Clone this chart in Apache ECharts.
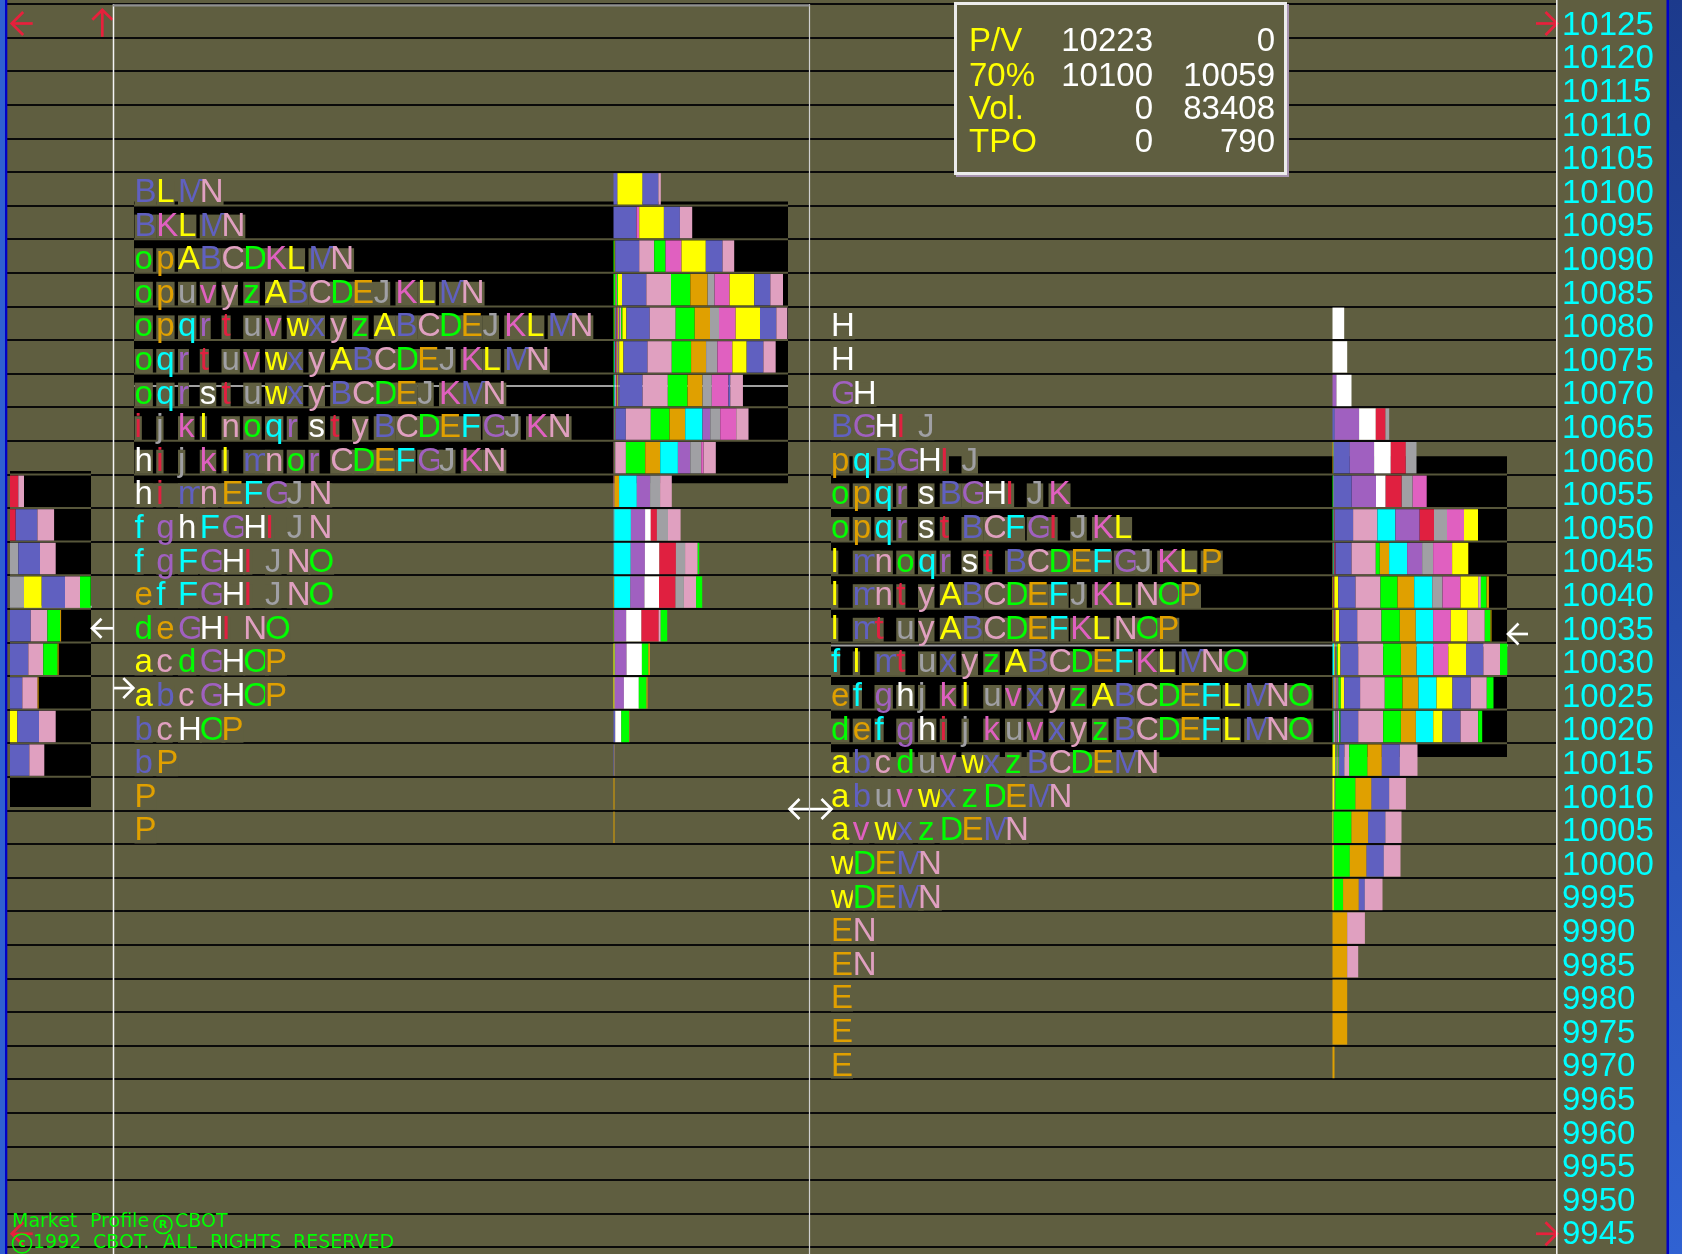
<!DOCTYPE html>
<html><head><meta charset="utf-8"><title>Market Profile</title>
<script src="https://cdn.jsdelivr.net/npm/echarts@6.0.0/dist/echarts.min.js"></script>
<style>html,body{margin:0;padding:0;background:#5f5e40;overflow:hidden}#chart{width:1682px;height:1254px}</style>
</head><body><div id="chart"></div>
<script>
// ================= DATA =================
const priceTicks = ['9945','9950','9955','9960','9965','9970','9975','9980','9985','9990','9995','10000','10005','10010','10015','10020','10025','10030','10035','10040','10045','10050','10055','10060','10065','10070','10075','10080','10085','10090','10095','10100','10105','10110','10115','10120','10125'];

// Day 1 profile
const leftPrices = [10100,10095,10090,10085,10080,10075,10070,10065,10060,10055,10050,10045,10040,10035,10030,10025,10020,10015,10010,10005];
const leftLetters = ['BLMN','BKLMN','opABCDKLMN','opuvyzABCDEJKLMN','opqrtuvwxyzABCDEJKLMN','oqrtuvwxyABCDEJKLMN','oqrstuwxyBCDEJKMN','ijklnoqrstyBCDEFGJKN','hijklmnorCDEFGJKN','himnEFGJN','fghFGHIJN','fgFGHIJNO','efFGHIJNO','deGHINO','acdGHOP','abcGHOP','bcHOP','bP','P','P'];
const leftVolumes = [
  [4,25,16,2.3],
  [23,2.7,24.7,16,12.3],
  [1,0.4,0.3,24,15,11.3,16,24.3,16.7,11.7],
  [1.5,0.5,0.5,0.5,0.5,1,4,24.3,24.7,19.3,17.3,7,15,24.7,16,12.7],
  [0.8,0.6,0.6,0.6,0.6,0.6,0.8,0.8,0.8,1.5,1.2,4,23.3,26,19,15.3,9,16.7,24.3,16.3,11],
  [0.63,0.63,0.63,0.63,0.63,0.63,0.63,0.63,0.63,4.3,24,24.3,19.3,15,11.3,15,14.3,16.7,12.3],
  [0.67,0.67,0.67,0.67,0.67,0.67,0.67,0.67,0.67,23,25.3,19.7,15,9.3,16.7,1.7,12.7],
  [0.21,0.21,0.21,0.21,0.21,0.21,0.21,0.21,0.21,0.21,0.21,10,25,18.7,15.7,17.3,7.7,10,16,12.3],
  [0.19,0.19,0.19,0.19,0.19,0.19,0.19,0.19,0.19,10.7,19.3,15,17.7,12.3,11,2.3,12.3],
  [0.25,0.25,0.25,0.25,4.6,17.7,13.3,10,11.7],
  [0.3,0.3,0.3,16.5,14.2,5.7,6.1,11.1,12.6],
  [0.3,0.3,16.6,14.2,14.5,16.5,9.2,12.6,1.5],
  [0.5,0.3,16,14.2,14.5,16.5,8.4,12.2,6.1],
  [0.3,0.4,12,15.3,17.2,2,6.5],
  [1,0.3,0.3,11.5,15.3,6.5,1.5],
  [1,0.2,0.2,9,14.9,7.7,1],
  [1.5,0.3,6,7.7,0.3],
  [1,0.3],
  [1],
  [1]
];

// Day 2 profile
const rightPrices = [10080,10075,10070,10065,10060,10055,10050,10045,10040,10035,10030,10025,10020,10015,10010,10005,10000,9995,9990,9985,9980,9975,9970];
const rightLetters = ['H','H','GH','BGHIJ','pqBGHIJ','opqrsBGHIJK','opqrstBCFGIJKL','lmnoqrstBCDEFGJKLP','lmntyABCDEFJKLNOP','lmtuyABCDEFKLNOP','flmtuxyzABCDEFKLMNO','efghjkluvxyzABCDEFLMNO','defghijkuvxyzBCDEFLMNO','abcduvwxzBCDEMN','abuvwxzDEMN','avwxzDEMN','wDEMN','wDEMN','EN','EN','E','E','E'];
const rightVolumes = [
  [11.7],
  [14.7],
  [4,15],
  [2.3,24.3,16.7,9.7,3.7],
  [1,0.3,16,24.3,16.7,15,10.7],
  [0.5,0.3,0.3,0.2,0.2,17.7,24.3,9.7,16,11,14],
  [0.5,0.4,0.4,0.3,0.3,0.4,18.3,24.3,18,24.3,14.3,13,17,14],
  [0.3,0.3,0.3,0.3,0.3,0.3,0.2,1,16,24.3,4,9.3,18,15,11,19,16,0.3],
  [0.5,0.3,0.3,0.5,0.3,3.8,17.3,25,17,16.7,18,10.3,18,17.7,2.7,5.7,2.3],
  [1,0.5,0.8,0.4,0.4,3.6,18,24.3,18.3,16,17.3,17.7,16.7,17.3,5.7,1],
  [1.5,0.8,0.4,0.4,0.4,0.4,0.4,1,2.7,17.7,25,17.7,15.7,16.7,15,17.7,17.3,16.7,7.3],
  [0.6,0.5,0.5,0.5,0.4,0.6,0.5,0.4,0.5,0.5,1,2.3,3.3,16,24.7,17.7,16,18,16,18.3,16,6.7],
  [0.5,0.5,0.5,0.5,0.5,0.5,0.5,0.5,0.5,0.5,0.5,1.2,1.3,17.7,25,17.7,15,17.3,9.3,18,17.7,4],
  [3,0.6,0.5,0.5,0.4,0.4,0.4,0.4,0.4,5.3,4.8,18.3,14.3,18,17.7],
  [1.5,0.3,0.2,0.2,0.4,0.2,0.2,20,16,17.7,16.7],
  [0.5,0.2,0.3,0.1,0.2,17.7,16.7,17.3,16],
  [1.3,16,16.7,17.3,16.7],
  [1.3,9.3,15.7,6,17.7],
  [14.7,17.7],
  [14.7,11],
  [14.7],
  [14.7],
  [2]
];

// Prior-day mini profile (bars only)
const miniPrices = [10055,10050,10045,10040,10035,10030,10025,10020,10015];
const miniPeriods = ['IN','IBN','JBN','JABND','BNDE','BNDE','BNE','ABN','BN'];
const miniVolumes = [[8.3,5.7],[5.7,21.7,16.7],[8.3,21.7,15.7],[14,17.7,23.3,15,10.7],[20.7,16.7,12.7,1],[18.3,15,14.3,1],[12.3,15.3,1],[7.3,21.7,16.7],[19.3,15]];

// value areas (left, right, mini) and points of control
const valueAreaHigh = [10098.1, 10060.2, 10058.0];
const valueAreaLow  = [10056.2, 10015.45, 10008.0];
const pocPrices = [10070.65, 10032.05, 10037.8];

// marker arrows (price levels)
const arrowPrices = [10124.6, 10124.6, 10124.6, 9944.5, 9944.5, 10034.6, 10025.7, 10007.7, 10033.75];

// statistics box
const pvLabels = ['P/V','70%','Vol.','TPO'];
const pvFirst  = ['10223','10100','0','0'];
const pvSecond = ['0','10059','83408','790'];

// ================= LAYOUT / STYLE =================
const OLIVE = '#5f5e40';
const SEP = '#57563a';
const PALETTE = ['#ffff00','#6060c0','#e0a0c0','#00ff00','#e0a000','#00ffff','#a060c0','#ffffff','#e02040','#a0a0a4','#e060c0'];
function colorOf(ch){ const c = ch.charCodeAt(0); const base = c >= 97 ? 97 : 65; return PALETTE[(c - base) % 11]; }
const PITCH = 21.75;
const TEXT_X = [134.5, 831];
const BAR_X = [613.5, 1332.5, 10];
const VA_X = [[134,788],[831,1507],[10,91]];
const POC_X = [[134,788],[831,1508],[24,92]];
const LABEL_X = 1562;
const FONT_FAMILY = '"Liberation Sans", Arial, sans-serif';
const LETTER_FONT = '33px ' + FONT_FAMILY;
const RED = '#e8203c', WHITE = '#ffffff';
const ARROW_LAYOUT = [
  {x:11.7, kind:'left', color:RED, s:11.5, len:21},
  {x:102.3, kind:'up', color:RED, s:10, len:27},
  {x:1557, kind:'right', color:RED, s:11.5, len:21},
  {x:1557, kind:'right', color:RED, s:11.5, len:21},
  {x:11.7, kind:'left', color:RED, s:11.5, len:21},
  {x:92, kind:'left', color:WHITE, s:9.5, len:21},
  {x:133.3, kind:'right', color:WHITE, s:10, len:20},
  {x:810.5, kind:'both', color:WHITE, s:10, len:21},
  {x:1508, kind:'left', color:WHITE, s:10.5, len:20}
];

// ================= BUILD ITEMS =================
const letterItems = [];
function addLetters(prof, prices, letters){
  prices.forEach((p, r) => {
    const s = letters[r];
    for (let i = 0; i < s.length; i++) letterItems.push({x: TEXT_X[prof] + i * PITCH, p: p, ch: s[i]});
  });
}
addLetters(0, leftPrices, leftLetters);
addLetters(1, rightPrices, rightLetters);

const barItems = [];
function addBars(prof, prices, letters, vols){
  prices.forEach((p, r) => {
    let cum = 0;
    const s = letters[r], v = vols[r];
    for (let i = 0; i < v.length; i++) { barItems.push({x: BAR_X[prof] + cum, p: p, w: v[i], ch: s[i]}); cum += v[i]; }
  });
}
addBars(0, leftPrices, leftLetters, leftVolumes);
addBars(1, rightPrices, rightLetters, rightVolumes);
addBars(2, miniPrices, miniPeriods, miniVolumes);

// ================= CHART =================
const chart = echarts.init(document.getElementById('chart'), null, {renderer:'canvas'});

function arrowShape(a, x, y){
  const s = a.s, L = a.len, lines = [];
  if (a.kind === 'left') { lines.push([[x, y],[x + L, y]]); lines.push([[x + s, y - s],[x, y],[x + s, y + s]]); }
  if (a.kind === 'right') { lines.push([[x - L, y],[x, y]]); lines.push([[x - s, y - s],[x, y],[x - s, y + s]]); }
  if (a.kind === 'up') { const t = y - 13.7; lines.push([[x, t],[x, t + L]]); lines.push([[x - s, t + s],[x, t],[x + s, t + s]]); }
  if (a.kind === 'both') { lines.push([[x - L, y],[x + L, y]]); lines.push([[x - L + s, y - s],[x - L, y],[x - L + s, y + s]]); lines.push([[x + L - s, y - s],[x + L, y],[x + L - s, y + s]]); }
  return lines.map(pts => ({type:'polyline', shape:{points: pts}, style:{stroke: a.color, lineWidth: 2.7, fill: null}}));
}

const option = {
  animation: false,
  backgroundColor: OLIVE,
  grid: {left: 7, right: 126, top: 4, bottom: 6.8, containLabel: false, outerBoundsMode: 'none'},
  xAxis: {type: 'value', min: 7, max: 1556, show: false},
  yAxis: [
    {type: 'value', min: 9942.5, max: 10127.5, show: false},
    {type: 'category', data: priceTicks, position: 'right',
     axisLine: {show: false}, axisTick: {show: false}, axisLabel: {show: false},
     splitLine: {show: true, interval: 0, lineStyle: {color: '#0a0a0a', width: 2}}}
  ],
  series: [
    { // value areas
      type: 'custom', z: 1, silent: true,
      data: valueAreaHigh.map((h, i) => [VA_X[i][0], h, VA_X[i][1], valueAreaLow[i]]),
      encode: {x: [0, 2], y: [1, 3]},
      renderItem: function(params, api){
        const a = api.coord([api.value(0), api.value(1)]);
        const b = api.coord([api.value(2), api.value(3)]);
        const hi = api.value(1), lo = api.value(3);
        const ch = [{type:'rect', shape:{x:a[0], y:a[1], width:b[0]-a[0], height:b[1]-a[1]}, style:{fill:'#000'}}];
        for (let e = 9942.5; e <= 10127.5; e += 5) {
          if (e < hi - 0.3 && e > lo + 0.3) {
            const y = api.coord([0, e])[1];
            ch.push({type:'line', shape:{x1:a[0], y1:y, x2:b[0], y2:y}, style:{stroke: SEP, lineWidth: 2}});
          }
        }
        return {type:'group', children: ch};
      }
    },
    { // POC lines
      type: 'custom', z: 2, silent: true,
      data: pocPrices.map((p, i) => [POC_X[i][0], p, POC_X[i][1]]),
      encode: {x: [0, 2], y: 1},
      renderItem: function(params, api){
        const a = api.coord([api.value(0), api.value(1)]);
        const b = api.coord([api.value(2), api.value(1)]);
        return {type:'line', shape:{x1:a[0], y1:a[1], x2:b[0], y2:b[1]}, style:{stroke:'#a0a0a0', lineWidth: 2}};
      }
    },
    { // histogram segments
      type: 'custom', z: 3, silent: true,
      data: barItems.map(o => [o.x, o.p, o.w]),
      encode: {x: 0, y: 1},
      renderItem: function(params, api){
        const o = barItems[params.dataIndex];
        const pt = api.coord([api.value(0), api.value(1)]);
        const sz = api.size([api.value(2), 5]);
        const h = sz[1];
        return {type:'rect', shape:{x: pt[0], y: pt[1] - h/2 + 1.2, width: sz[0], height: h - 2.2}, style:{fill: colorOf(o.ch)}};
      }
    },
    { // TPO letters
      type: 'custom', z: 4, silent: true,
      data: letterItems.map(o => [o.x, o.p]),
      encode: {x: 0, y: 1},
      renderItem: function(params, api){
        const o = letterItems[params.dataIndex];
        const pt = api.coord([api.value(0), api.value(1)]);
        return {type:'text', x: pt[0], y: pt[1] + 4.2,
          style:{text: o.ch, fill: colorOf(o.ch), font: LETTER_FONT, align:'left', textAlign:'left', verticalAlign:'middle', textVerticalAlign:'middle', backgroundColor: OLIVE, lineHeight: 24}};
      }
    },
    { // price scale labels
      type: 'custom', z: 5, silent: true,
      data: priceTicks.map(t => [LABEL_X, Number(t)]),
      encode: {x: 0, y: 1},
      renderItem: function(params, api){
        const pt = api.coord([api.value(0), api.value(1)]);
        return {type:'text', x: pt[0], y: pt[1] + 5,
          style:{text: priceTicks[params.dataIndex], fill:'#00ffff', font: '33px ' + FONT_FAMILY, align:'left', textAlign:'left', verticalAlign:'middle', textVerticalAlign:'middle'}};
      }
    },
    { // arrows
      type: 'custom', z: 6, silent: true,
      data: arrowPrices.map((p, i) => [ARROW_LAYOUT[i].x, p]),
      encode: {x: 0, y: 1},
      renderItem: function(params, api){
        const a = ARROW_LAYOUT[params.dataIndex];
        const pt = api.coord([api.value(0), api.value(1)]);
        return {type:'group', children: arrowShape(a, pt[0], pt[1])};
      }
    }
  ],
  graphic: []
};

// decorations
const G = option.graphic;
G.push({type:'rect', z:100, shape:{x:0,y:0,width:5,height:1254}, style:{fill:'#3060d0'}});
G.push({type:'rect', z:100, shape:{x:5,y:0,width:2.3,height:1254}, style:{fill:'#0000c8'}});
G.push({type:'rect', z:100, shape:{x:1666.5,y:0,width:2.5,height:1254}, style:{fill:'#0000c8'}});
G.push({type:'rect', z:100, shape:{x:1669,y:0,width:13,height:1254}, style:{fill: new echarts.graphic.LinearGradient(0,0,0,1,[{offset:0,color:'#1c3a8c'},{offset:1,color:'#3062d2'}])}});
G.push({type:'line', z:50, shape:{x1:113.5,y1:4,x2:113.5,y2:1254}, style:{stroke:'#f4f4f4', lineWidth:1.5}});
G.push({type:'line', z:50, shape:{x1:809.5,y1:4,x2:809.5,y2:1254}, style:{stroke:'#d0d0d0', lineWidth:1.2}});
G.push({type:'line', z:50, shape:{x1:1556.8,y1:0,x2:1556.8,y2:1254}, style:{stroke:'#f4f4f4', lineWidth:1.5}});
G.push({type:'line', z:50, shape:{x1:113,y1:5.4,x2:809.5,y2:5.4}, style:{stroke:'#909090', lineWidth:2.4}});
// statistics box
G.push({type:'rect', z:100, shape:{x:957,y:5,width:331,height:171}, style:{fill:'none', stroke:'#a894b0', lineWidth:2}});
G.push({type:'rect', z:101, shape:{x:955.5,y:3.5,width:330,height:170}, style:{fill:OLIVE, stroke:'#ececec', lineWidth:3}});
const PV_FONT = '33px ' + FONT_FAMILY;
const pvY = [42, 76.5, 110, 143];
pvLabels.forEach((t, i) => {
  G.push({type:'text', z:102, x:969, y:pvY[i], style:{text:t, fill:'#ffff00', font:PV_FONT, align:'left', textAlign:'left', verticalAlign:'middle', textVerticalAlign:'middle'}});
  G.push({type:'text', z:102, x:1153, y:pvY[i], style:{text:pvFirst[i], fill:'#ffffff', font:PV_FONT, align:'right', textAlign:'right', verticalAlign:'middle', textVerticalAlign:'middle'}});
  G.push({type:'text', z:102, x:1275, y:pvY[i], style:{text:pvSecond[i], fill:'#ffffff', font:PV_FONT, align:'right', textAlign:'right', verticalAlign:'middle', textVerticalAlign:'middle'}});
});
// copyright
const CP_FONT = '19px "DejaVu Sans", sans-serif';
const cpWords = [['Market',12,1222],['Profile',90,1222],['CBOT',175,1222],['1992',33,1243],['CBOT.',93,1243],['ALL',163,1243],['RIGHTS',210,1243],['RESERVED',293,1243]];
cpWords.forEach(w => G.push({type:'text', z:103, x:w[1], y:w[2], style:{text:w[0], fill:'#00ff00', font:CP_FONT, align:'left', textAlign:'left', verticalAlign:'middle', textVerticalAlign:'middle'}}));
G.push({type:'circle', z:103, shape:{cx:163, cy:1224.5, r:9}, style:{fill:'none', stroke:'#00ff00', lineWidth:1.6}});
G.push({type:'text', z:103, x:163, y:1225, style:{text:'R', fill:'#00ff00', font:'bold 11px "DejaVu Sans", sans-serif', align:'center', textAlign:'center', verticalAlign:'middle', textVerticalAlign:'middle'}});
G.push({type:'circle', z:103, shape:{cx:22, cy:1243.5, r:9.5}, style:{fill:'none', stroke:'#00ff00', lineWidth:1.6}});
G.push({type:'text', z:103, x:22, y:1244, style:{text:'c', fill:'#00ff00', font:'bold 12px "DejaVu Sans", sans-serif', align:'center', textAlign:'center', verticalAlign:'middle', textVerticalAlign:'middle'}});

chart.setOption(option);
</script></body></html>
